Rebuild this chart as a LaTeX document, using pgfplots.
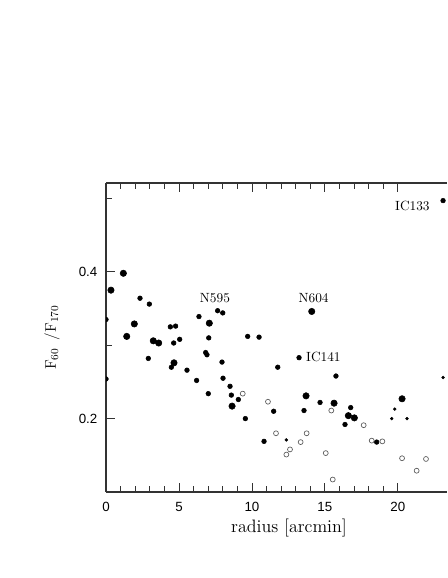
\documentclass[border=0pt]{standalone}
\usepackage{fontspec}
\newfontfamily\tickfont{Liberation Sans}
\usepackage{pgfplots}
\pgfplotsset{compat=1.18}

\begin{document}
\begin{tikzpicture}
\useasboundingbox (0,0) rectangle (335.25pt,433.5pt);
\begin{axis}[
  at={(79.5pt,64.5pt)}, anchor=south west,
  scale only axis, width=255.75pt, height=231.75pt,
  xmin=0, xmax=23.37, ymin=0.1, ymax=0.521,
  axis x line*=box, axis y line*=left,
  axis line style={black!80, line width=0.8pt},
  xtick={0,5,10,15,20}, minor x tick num=4,
  ytick={0.2,0.4}, minor ytick={0.3,0.5},
  major tick length=6.75pt, minor tick length=4.5pt,
  tick style={black!80, line width=0.6pt},
  tick align=inside,
  /pgf/number format/assume math mode=true,
  ticklabel style={font=\tickfont\fontsize{10}{12}\selectfont},
  xticklabel style={anchor=center, yshift=-11pt},
  yticklabel style={anchor=east, xshift=-3pt},
  xlabel={\addfontfeature{LetterSpace=7}radius [arcmin]},
  xlabel style={at={(rel axis cs:0.5367,0)}, anchor=center, yshift=-27pt,
    font=\fontsize{13.5}{15}\selectfont},
  ylabel={\addfontfeature{LetterSpace=6}F\textsubscript{60}\hspace{0.5em}/F\textsubscript{170}},
  ylabel style={at={(axis description cs:0,0.5)}, anchor=center, yshift=40.5pt,
    font=\fontsize{11.5}{13}\selectfont},
  clip marker paths=true,
]
% large filled symbols
\addplot[only marks, mark=*, mark size=2.4pt, mark options={draw=none, fill=black}] coordinates {
  (1.19,0.398) (0.34,0.375) (1.94,0.329) (1.42,0.312) (3.24,0.306)
  (3.61,0.303) (4.66,0.276) (7.08,0.330) (14.10,0.346) (8.64,0.217)
  (16.61,0.204) (17.02,0.201) (20.29,0.227) (13.71,0.231) (15.63,0.221)
};
% medium filled symbols
\addplot[only marks, mark=*, mark size=1.75pt, mark options={draw=none, fill=black}] coordinates {
  (0.0,0.335) (2.33,0.364) (2.97,0.356) (2.90,0.282) (4.41,0.325)
  (4.77,0.326) (4.64,0.303) (5.05,0.308) (4.48,0.270) (5.55,0.266)
  (0.0,0.254) (6.21,0.252) (7.01,0.234) (6.37,0.339) (7.65,0.347)
  (8.00,0.344) (7.04,0.310) (6.83,0.290) (6.92,0.287) (7.95,0.277)
  (8.02,0.255) (9.71,0.312) (10.49,0.311) (8.50,0.244) (8.59,0.232)
  (9.07,0.226) (9.55,0.200) (11.77,0.270) (13.23,0.283) (11.49,0.210)
  (10.83,0.169) (13.57,0.211) (14.67,0.222) (15.76,0.258) (16.77,0.215)
  (16.38,0.192) (18.55,0.168) (23.10,0.497)
};
% small filled symbols
\addplot[only marks, mark=*, mark size=1.05pt, mark options={draw=none, fill=black}] coordinates {
  (12.36,0.171) (19.79,0.213) (19.58,0.200) (20.63,0.200) (23.10,0.256)
};
% open symbols
\addplot[only marks, mark=o, mark size=1.85pt, mark options={draw=black!65, line width=0.5pt}] coordinates {
  (9.37,0.234) (11.10,0.223) (11.65,0.180) (12.61,0.158) (12.36,0.151)
  (13.34,0.168) (13.75,0.180) (15.44,0.211) (15.06,0.153) (15.54,0.117)
  (17.66,0.191) (18.21,0.170) (18.94,0.169) (20.29,0.146) (21.93,0.145)
  (21.29,0.129)
};
\node[font=\fontsize{10}{12}\selectfont] at (axis cs:7.47,0.364) {N595};
\node[font=\fontsize{10}{12}\selectfont] at (axis cs:14.23,0.364) {N604};
\node[font=\fontsize{10}{12}\selectfont] at (axis cs:14.9,0.284) {IC141};
\node[font=\fontsize{10}{12}\selectfont] at (axis cs:21.0,0.490) {IC133};
\end{axis}
\end{tikzpicture}
\end{document}
